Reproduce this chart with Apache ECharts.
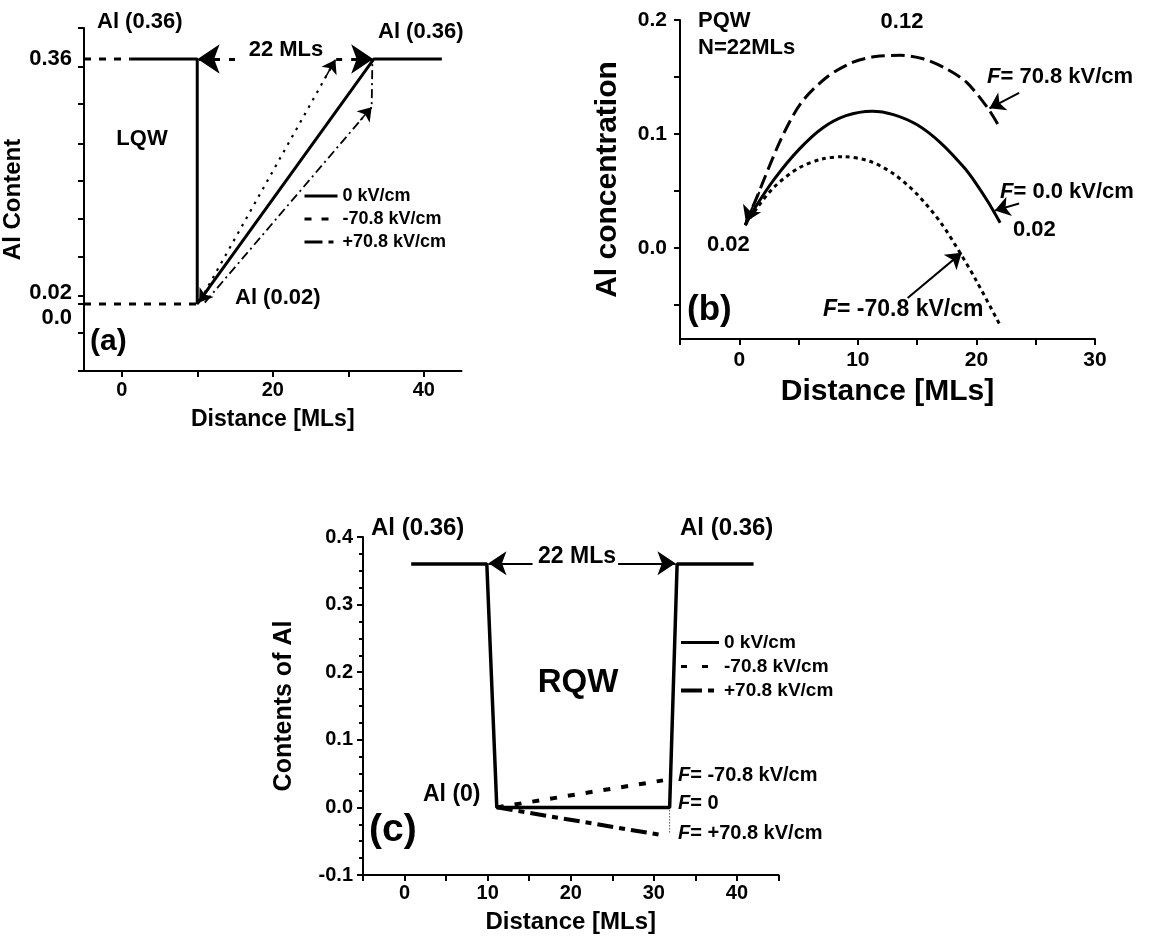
<!DOCTYPE html>
<html>
<head>
<meta charset="utf-8">
<script src="https://cdn.jsdelivr.net/npm/echarts@6/dist/echarts.min.js"></script>
<style>
  html, body { margin: 0; padding: 0; background: #fff; }
  #main { width: 1152px; height: 938px; }
</style>
</head>
<body>
<div id="main"></div>
<script>
// field names used in the legends
var fieldNames = ['0 kV/cm', '-70.8 kV/cm', '+70.8 kV/cm'];

// (a) LQW profiles
var lqwZeroX = [1.2, 10, 10, 33.4, 42.4];
var lqwZeroY = [0.36, 0.36, 0.02, 0.36, 0.36];
var lqwNegX = [10.4, 28.3];
var lqwNegY = [0.025, 0.359];
var lqwPosX = [11.0, 33.1, 33.2, 33.2];
var lqwPosY = [0.022, 0.293, 0.293, 0.36];
var lqwGuideTopX = [-5, 1.2];
var lqwGuideTopY = [0.36, 0.36];
var lqwGuideBotX = [-5, 10];
var lqwGuideBotY = [0.02, 0.02];

// (b) PQW profiles
var pqwPosX = [0.5, 1.5, 3.5, 5.2, 7.4, 9.6, 11.5, 13.6, 15.5, 17.5, 19.2, 21, 22];
var pqwPosY = [0.02, 0.045, 0.095, 0.127, 0.150, 0.163, 0.168, 0.169, 0.166, 0.157, 0.145, 0.122, 0.105];
var pqwZeroX = [0.5, 1.5, 3, 5, 7, 9, 11.2, 13, 15, 17, 19, 20, 21, 22];
var pqwZeroY = [0.020, 0.038, 0.061, 0.086, 0.105, 0.116, 0.120, 0.117, 0.108, 0.092, 0.070, 0.056, 0.040, 0.022];
var pqwNegX = [0.5, 1.5, 3, 5, 7, 8.8, 11, 13, 15, 17, 18.6, 20, 22];
var pqwNegY = [0.020, 0.035, 0.054, 0.070, 0.078, 0.080, 0.076, 0.065, 0.047, 0.022, -0.004, -0.029, -0.068];

// (c) RQW profiles
var rqwZeroX = [0.8, 9.9, 11.1, 31.9, 32.8, 42.0];
var rqwZeroY = [0.36, 0.36, 0, 0, 0.36, 0.36];
var rqwNegX = [11.1, 31.1];
var rqwNegY = [0, 0.040];
var rqwPosX = [11.1, 31.2];
var rqwPosY = [0, -0.0415];
var rqwMarkX = [31.9, 31.9];
var rqwMarkY = [0, -0.04];

// ticks and tick labels
var aXTicks = [0, 10, 20, 30, 40];
var aXLabels = [0, 20, 40];
var aYTicks = [-0.073, -0.0205, 0.02, 0.031, 0.085, 0.138, 0.1905, 0.243, 0.2975, 0.349, 0.403];
var aYLabels = [0.02, 0.36];
var aYZeroLabel = [0];
var bXTicks = [-5, 0, 5, 10, 15, 20, 25, 30];
var bXLabels = [0, 10, 20, 30];
var bYTicks = [-0.05, 0, 0.05, 0.1, 0.15, 0.2];
var bYLabels = [0, 0.1, 0.2];
var cXTicks = [-5, 0, 5, 10, 15, 20, 25, 30, 35, 40, 45];
var cXLabels = [0, 10, 20, 30, 40];

// arrows: [from, to]
var arrowsA = [
  [[11.6, 0.042], [10.25, 0.022]],
  [[26.9, 0.333], [28.3, 0.359]],
  [[31.6, 0.275], [33.1, 0.293]]
];
var bracketA = [[[15, 0.36], [10.05, 0.36]], [[28.4, 0.36], [33.3, 0.36]]];
var arrowsB = [
  [[23.6, 0.136], [21.1, 0.1225]],
  [[23.6, 0.039], [21.55, 0.0327]],
  [[14.2, -0.044], [18.75, -0.0044]],
  [[1.7, 0.049], [0.55, 0.023]]
];
var bracketC = [[[15.4, 0.361], [10.1, 0.361]], [[25.7, 0.361], [32.6, 0.361]]];

var FONT = '"Liberation Sans", Arial, Helvetica, sans-serif';
var chartDom = document.getElementById('main');
var myChart = echarts.init(chartDom, null, { renderer: 'canvas' });
var option;

function pts(xs, ys) {
  return xs.map(function (x, i) { return [x, ys[i]]; });
}

function arrows(list, size, style) {
  return {
    silent: true, label: { show: false }, symbolSize: size,
    lineStyle: style, itemStyle: { color: '#000' },
    data: list.map(function (a) {
      return [
        { coord: a[0], symbol: 'none', lineStyle: style },
        { coord: a[1], symbol: 'arrow', lineStyle: style }
      ];
    })
  };
}

function bold(size) {
  return { fontSize: size, fontWeight: 'bold', fontFamily: FONT, color: '#000' };
}

function xAxis(grid, min, max, ticks, labels, labelSize, margin, nameSize, nameGap) {
  return {
    type: 'value', gridIndex: grid, min: min, max: max,
    axisLine: { show: true, onZero: false, lineStyle: { color: '#000', width: 2 } },
    axisTick: { show: true, customValues: ticks, length: 6, lineStyle: { color: '#000', width: 2 } },
    axisLabel: Object.assign({ customValues: labels, margin: margin, hideOverlap: false }, bold(labelSize)),
    splitLine: { show: false },
    name: 'Distance [MLs]', nameLocation: 'middle', nameGap: nameGap,
    nameTextStyle: bold(nameSize)
  };
}

function text(x, y, str, size, align) {
  return {
    type: 'text', x: x, y: y, silent: true,
    style: {
      text: str, fill: '#000', fontSize: size, fontWeight: 'bold', fontFamily: FONT,
      align: align || 'left', verticalAlign: 'middle',
      rich: { i: { fontStyle: 'italic', fontWeight: 'bold', fontSize: size, fontFamily: FONT, fill: '#000' } }
    }
  };
}

function legendItem(name, width, type) {
  return {
    name: name,
    itemStyle: { opacity: 0 },
    lineStyle: { color: '#000', width: width, type: type }
  };
}

function curve(name, xi, xs, ys, width, type, extra) {
  return Object.assign({
    name: name, type: 'line', xAxisIndex: xi, yAxisIndex: xi,
    data: pts(xs, ys), symbol: 'none', showSymbol: false,
    itemStyle: { color: '#000' },
    lineStyle: { color: '#000', width: width, type: type }
  }, extra || {});
}

option = {
  backgroundColor: '#fff',
  animation: false,
  grid: [
    { left: 84, top: 28, width: 377.5, height: 343, outerBoundsMode: 'none' },
    { left: 680, top: 20, width: 415, height: 319, outerBoundsMode: 'none' },
    { left: 363, top: 537, width: 415.5, height: 338, outerBoundsMode: 'none' }
  ],
  xAxis: [
    xAxis(0, -5, 45, aXTicks, aXLabels, 20, 9, 23, 37),
    xAxis(1, -5, 30, bXTicks, bXLabels, 21, 11, 30, 38),
    xAxis(2, -5, 45, cXTicks, cXLabels, 20, 8, 24, 35)
  ],
  yAxis: [
    {
      type: 'value', gridIndex: 0, position: 'left', offset: 0, min: -0.073, max: 0.403,
      axisLine: { show: true, onZero: false, lineStyle: { color: '#000', width: 2 } },
      axisTick: { show: true, customValues: aYTicks, length: 6, lineStyle: { color: '#000', width: 2 } },
      axisLabel: Object.assign({
        customValues: aYLabels, margin: 12, lineHeight: 22, hideOverlap: false,
        formatter: function (v) {
          if (Math.abs(v - 0.02) < 1e-9) return '0.02\n';
          return v.toFixed(2);
        }
      }, bold(22)),
      splitLine: { show: false },
      name: 'Al Content', nameLocation: 'middle', nameGap: 40, nameTextStyle: bold(24)
    },
    {
      type: 'value', gridIndex: 1, min: -0.08, max: 0.2,
      axisLine: { show: true, onZero: false, lineStyle: { color: '#000', width: 2 } },
      axisTick: { show: true, customValues: bYTicks, length: 6, lineStyle: { color: '#000', width: 2 } },
      axisLabel: Object.assign({
        customValues: bYLabels, margin: 13, hideOverlap: false,
        formatter: function (v) { return v.toFixed(1); }
      }, bold(21)),
      splitLine: { show: false },
      name: 'Al concentration', nameLocation: 'middle', nameGap: 57, nameTextStyle: bold(30)
    },
    {
      type: 'value', gridIndex: 2, min: -0.1, max: 0.4, interval: 0.1,
      axisLine: { show: true, onZero: false, lineStyle: { color: '#000', width: 2 } },
      axisTick: { show: true, length: 6, lineStyle: { color: '#000', width: 2 } },
      minorTick: { show: true, splitNumber: 4, length: 4, lineStyle: { color: '#000', width: 2 } },
      axisLabel: Object.assign({
        margin: 10, hideOverlap: false,
        formatter: function (v) { return v.toFixed(1); }
      }, bold(20)),
      splitLine: { show: false },
      name: 'Contents of Al', nameLocation: 'middle', nameGap: 66, nameTextStyle: bold(25)
    },
    {
      // second label set for panel (a): the 0.0 label sits just under 0.02
      type: 'value', gridIndex: 0, position: 'left', offset: 0, min: -0.073, max: 0.403,
      axisLine: { show: false, onZero: false },
      axisTick: { show: false },
      axisLabel: Object.assign({
        customValues: aYZeroLabel, margin: 12, hideOverlap: false,
        formatter: function () { return '0.0'; }
      }, bold(22)),
      splitLine: { show: false }
    }
  ],
  legend: [
    {
      left: 303, top: 187, orient: 'vertical', padding: 0,
      itemWidth: 33, itemHeight: 14, itemGap: 5, selectedMode: false,
      textStyle: Object.assign({ lineHeight: 18 }, bold(18)),
      data: [
        legendItem(fieldNames[0], 3, 'solid'),
        legendItem(fieldNames[1], 3, [7, 10]),
        legendItem(fieldNames[2], 3, [18, 6, 5, 6])
      ]
    },
    {
      left: 679, top: 633, orient: 'vertical', padding: 0,
      itemWidth: 38, itemHeight: 14, itemGap: 5, selectedMode: false,
      textStyle: Object.assign({ lineHeight: 18 }, bold(19)),
      data: [
        legendItem(fieldNames[0], 3, 'solid'),
        legendItem(fieldNames[1], 3, [6, 15]),
        legendItem(fieldNames[2], 4, [21, 6, 6, 10])
      ]
    }
  ],
  series: [
    // (a)
    curve(fieldNames[0], 0, lqwZeroX, lqwZeroY, 3, 'solid', {
      markLine: arrows(arrowsA, 13, { color: '#000', width: 1.5, type: 'solid' })
    }),
    curve(fieldNames[1], 0, lqwNegX, lqwNegY, 2.2, [2.5, 6]),
    curve(fieldNames[2], 0, lqwPosX, lqwPosY, 1.8, [9, 4, 2, 4]),
    curve('guide', 0, lqwGuideTopX, lqwGuideTopY, 3, [7, 8], {
      markLine: arrows(bracketA, 22, { color: '#000', width: 3, type: [6, 9] })
    }),
    curve('guide', 0, lqwGuideBotX, lqwGuideBotY, 3, [7, 8]),
    // (b)
    curve('PQW ' + fieldNames[2], 1, pqwPosX, pqwPosY, 3, [14, 6], { smooth: 0.3 }),
    curve('PQW ' + fieldNames[0], 1, pqwZeroX, pqwZeroY, 3, 'solid', {
      smooth: 0.3,
      markLine: arrows(arrowsB, 15, { color: '#000', width: 2, type: 'solid' })
    }),
    curve('PQW ' + fieldNames[1], 1, pqwNegX, pqwNegY, 3, [4, 4], { smooth: 0.3 }),
    // (c)
    curve('RQW ' + fieldNames[0], 2, rqwZeroX, rqwZeroY, 3.5, 'solid', {
      markLine: arrows(bracketC, 18, { color: '#000', width: 2, type: 'solid' })
    }),
    curve('RQW ' + fieldNames[1], 2, rqwNegX, rqwNegY, 4, [7, 11]),
    curve('RQW ' + fieldNames[2], 2, rqwPosX, rqwPosY, 4, [16, 6, 6, 6]),
    curve('guide', 2, rqwMarkX, rqwMarkY, 1, [1, 2])
  ],
  graphic: [
    // (a)
    text(97, 22, 'Al (0.36)', 22),
    text(378, 32, 'Al (0.36)', 22),
    text(286, 50, '22 MLs', 22, 'center'),
    text(142, 139, 'LQW', 22, 'center'),
    text(235, 298, 'Al (0.02)', 22),
    text(90, 342, '(a)', 30),
    // (b)
    text(698, 21, 'PQW', 22),
    text(698, 48, 'N=22MLs', 22),
    text(902, 22, '0.12', 22, 'center'),
    text(987, 77, '{i|F}= 70.8 kV/cm', 22),
    text(1000, 192, '{i|F}= 0.0 kV/cm', 22),
    text(1013, 230, '0.02', 22),
    text(707, 245, '0.02', 22),
    text(823, 310, '{i|F}= -70.8 kV/cm', 23),
    text(687, 310, '(b)', 35),
    // (c)
    text(371, 528, 'Al (0.36)', 24),
    text(680, 528, 'Al (0.36)', 24),
    text(577, 557, '22 MLs', 23, 'center'),
    text(578, 683, 'RQW', 33, 'center'),
    text(423, 795, 'Al (0)', 23),
    text(678, 775, '{i|F}= -70.8 kV/cm', 20),
    text(678, 803, '{i|F}= 0', 20),
    text(678, 833, '{i|F}= +70.8 kV/cm', 20),
    text(369, 830, '(c)', 39)
  ]
};

option && myChart.setOption(option);
</script>
</body>
</html>
